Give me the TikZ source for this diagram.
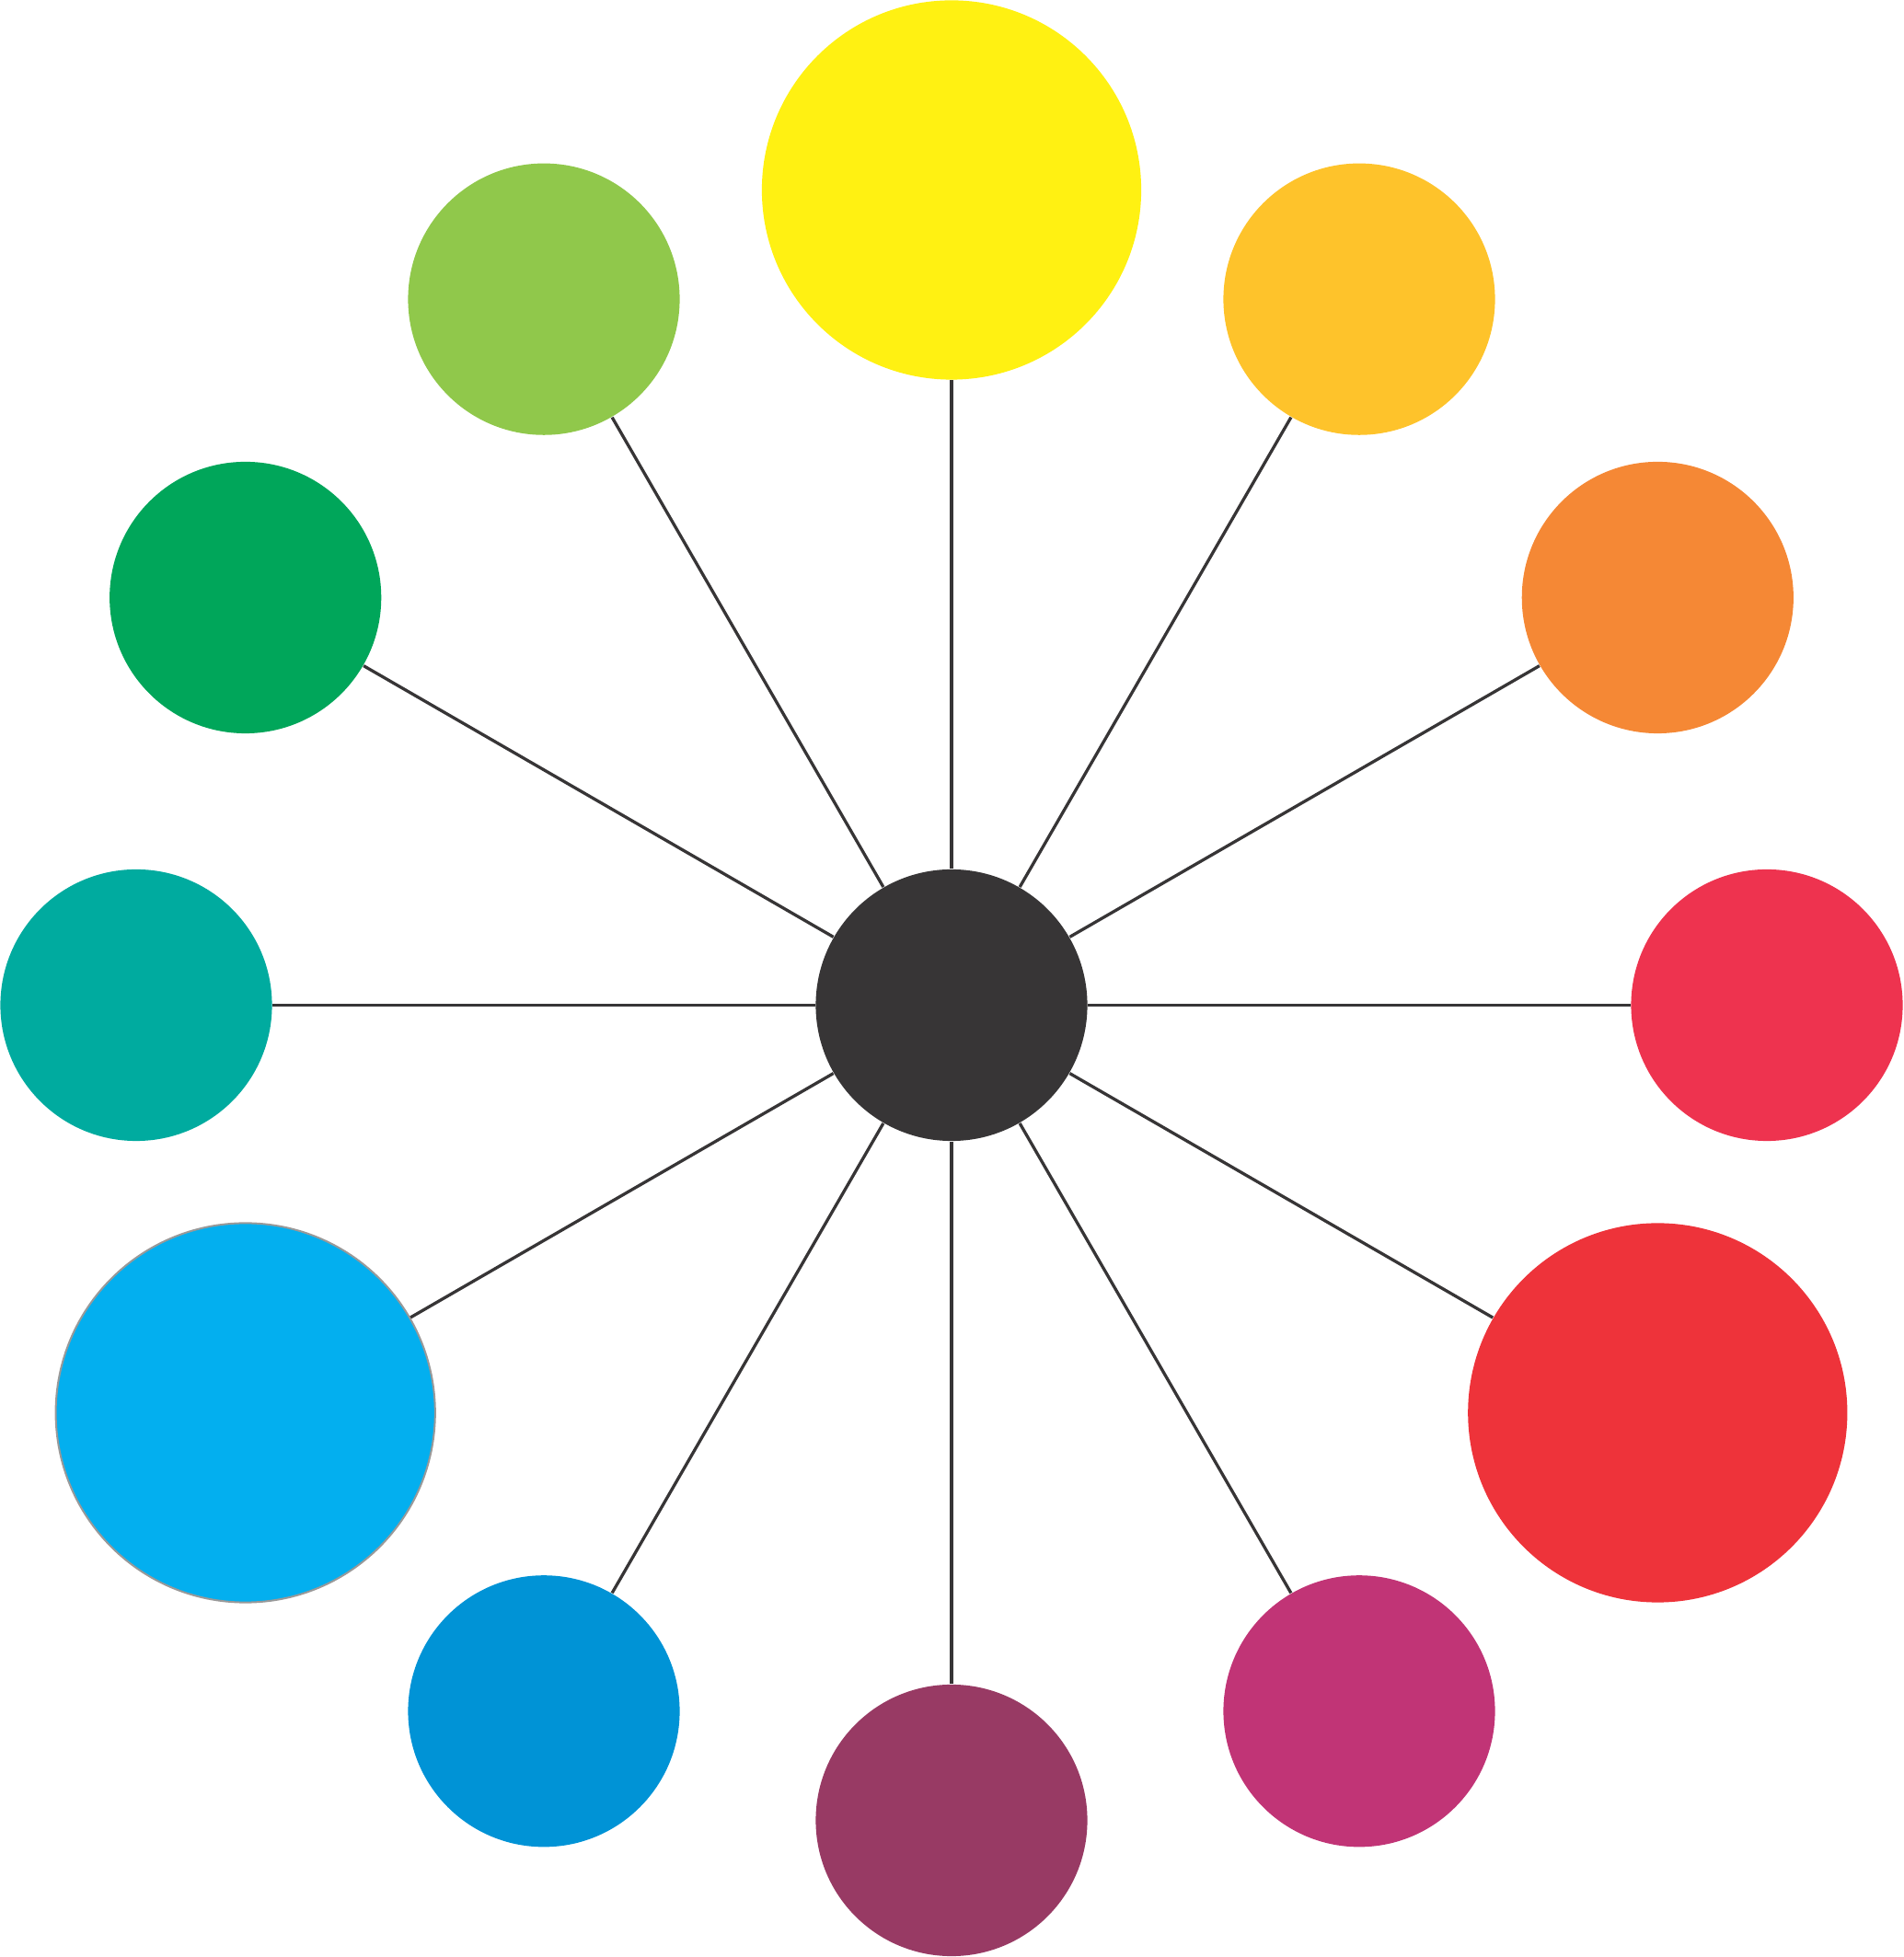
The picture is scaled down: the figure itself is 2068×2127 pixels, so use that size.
\documentclass[tikz,border=0pt]{standalone}

\definecolor{hubgray}{HTML}{373536}
\definecolor{cyellow}{HTML}{FFF112}
\definecolor{camber}{HTML}{FEC32B}
\definecolor{corange}{HTML}{F58835}
\definecolor{crose}{HTML}{EE334F}
\definecolor{cred}{HTML}{EE333A}
\definecolor{cmagenta}{HTML}{C13476}
\definecolor{cplum}{HTML}{983A64}
\definecolor{cblue}{HTML}{0093D6}
\definecolor{ccyan}{HTML}{03AFEF}
\definecolor{cteal}{HTML}{00AB9F}
\definecolor{cgreen}{HTML}{00A65A}
\definecolor{clime}{HTML}{90C84B}

\begin{document}
\begin{tikzpicture}[x=0.01cm, y=0.01cm,
    spoke/.style={draw=hubgray, line width=0.033cm},
    smalldot/.style={circle, inner sep=0pt, minimum size=2.95cm},
    bigdot/.style={circle, inner sep=0pt, minimum size=4.12cm}]
    \useasboundingbox (0,0) rectangle (2068,2127);

    \node[smalldot, fill=hubgray] (hub) at (1034,1034.5) {};

    % outer ring
    \foreach \ang/\name/\kind in {90/yellow/bigdot, 60/amber/smalldot,
        30/orange/smalldot, 0/rose/smalldot, -30/red/bigdot,
        -60/magenta/smalldot, -90/plum/smalldot, -120/blue/smalldot,
        -150/cyan/bigdot, 180/teal/smalldot, 150/green/smalldot,
        120/lime/smalldot}
    {
        \node[\kind, fill=c\name] (\name) at ([shift={(\ang:886)}]hub.center) {};
        \draw[spoke] (hub) -- (\name);
    }

    \node[bigdot, fill=ccyan, draw=gray!80, line width=0.02cm] at (cyan) {};
\end{tikzpicture}
\end{document}
